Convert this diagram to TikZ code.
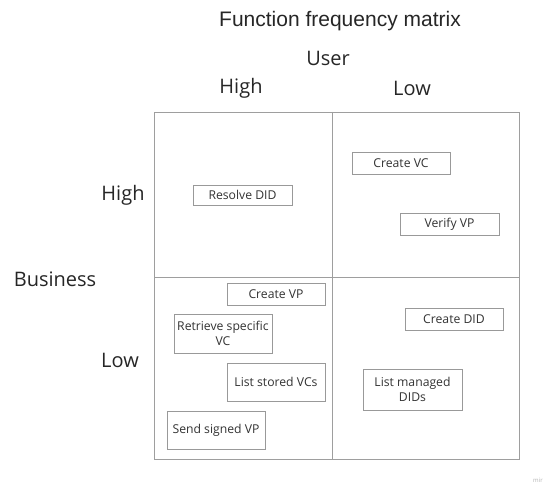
\documentclass[tikz,border=0pt]{standalone}
\usepackage{fontspec}
\setmainfont{Open Sans}
\newfontfamily\titlefont{Liberation Sans}
\begin{document}
\begin{tikzpicture}[x=1pt,y=-1pt,
  frame/.style={draw=black!38, line width=0.9pt},
  item/.style={draw=black!40, line width=0.6pt, fill=white, align=center, font=\fontsize{12.2}{15}\selectfont, text=black!80, inner sep=0pt},
  axis/.style={font=\fontsize{20}{23}\selectfont, text=black!85, inner sep=0pt}]
\useasboundingbox (0,0) rectangle (546,484);
% frame
\draw[frame] (154,112) rectangle (519,459);
\draw[frame] (332,112) -- (332,459);
\draw[frame] (154,277) -- (519,277);
% titles
\node[font=\titlefont\fontsize{21}{24}\selectfont, text=black!85, inner sep=0pt] (title) at (340,21) {Function frequency matrix};
\node[axis] (user) at (328,58) {User};
\node[axis] (uhigh) at (241,88) {High};
\node[axis] (ulow) at (412,88) {Low};
\node[axis] (bhigh) at (123,195) {High};
\node[axis] (business) at (55,279) {Business};
\node[axis] (blow) at (120,360) {Low};
% items
\node[item, minimum width=99pt, minimum height=20pt] (resolve) at (242.5,195) {Resolve DID};
\node[item, minimum width=98pt, minimum height=22pt] (createvc) at (401,163) {Create VC};
\node[item, minimum width=99pt, minimum height=22pt] (verifyvp) at (449.5,224) {Verify VP};
\node[item, minimum width=98pt, minimum height=22pt] (createvp) at (276,294) {Create VP};
\node[item, minimum width=98pt, minimum height=39pt] (retrieve) at (223,333.5) {Retrieve specific\\VC};
\node[item, minimum width=98pt, minimum height=38pt] (liststored) at (276,382) {List stored VCs};
\node[item, minimum width=98pt, minimum height=38pt] (sendvp) at (216,430) {Send signed VP};
\node[item, minimum width=98pt, minimum height=22pt] (createdid) at (454,319) {Create DID};
\node[item, minimum width=99pt, minimum height=41pt] (listdids) at (412.5,389.5) {List managed\\DIDs};
% watermark
\node[font=\fontsize{6}{7}\selectfont, text=black!30, inner sep=0pt] (mir) at (538,480) {mir};
\end{tikzpicture}
\end{document}
